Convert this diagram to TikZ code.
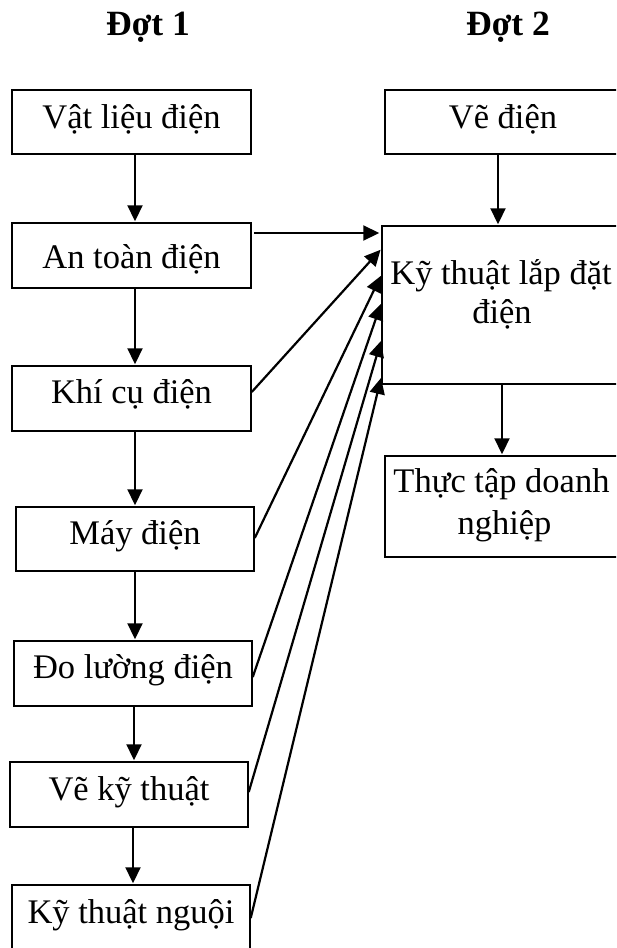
\documentclass[tikz,border=0pt]{standalone}
\usepackage{fontspec}
\setmainfont{Liberation Serif}
\usetikzlibrary{arrows.meta}
\begin{document}
\begin{tikzpicture}[x=1pt,y=-1pt,
  box/.style={draw, line width=1.5pt, inner sep=0pt, text depth=10pt,
    font=\fontsize{34.5}{39}\selectfont},
  txt/.style={inner sep=0pt, font=\fontsize{34.5}{39}\selectfont},
  ttl/.style={inner sep=0pt, font=\fontsize{35.5}{40}\selectfont\bfseries},
  arr/.style={line width=2.2pt, -{Triangle[length=16pt,width=15pt]}, shorten >=1pt}]
\useasboundingbox (0,0) rectangle (616,948);
\clip (0,0) rectangle (616,948);
% titles
\node[ttl, anchor=base] (t1) at (148,35) {Đợt 1};
\node[ttl, anchor=base] (t2) at (508,35) {Đợt 2};
% left column
\node[box, minimum width=239pt, minimum height=64pt, text height=22pt] (vl) at (131.5,122) {Vật liệu điện};
\node[box, minimum width=239pt, minimum height=65pt, text height=35pt] (at) at (131.5,255.5) {An toàn điện};
\node[box, minimum width=239pt, minimum height=65pt, text height=19pt] (kc) at (131.5,398.5) {Khí cụ điện};
\node[box, minimum width=238pt, minimum height=64pt, text height=20pt] (md) at (135,539) {Máy điện};
\node[box, minimum width=238pt, minimum height=65pt, text height=19pt] (dl) at (133,673.5) {Đo lường điện};
\node[box, minimum width=238pt, minimum height=65pt, text height=21pt] (vk) at (129,794.5) {Vẽ kỹ thuật};
\node[box, minimum width=238pt, minimum height=65pt, text height=21pt] (kn) at (131,917.5) {Kỹ thuật nguội};
% right column
\node[box, minimum width=236pt, minimum height=64pt, text height=22pt] (vd) at (503,122) {Vẽ điện};
\node[box, minimum width=238pt, minimum height=158pt] (big) at (501,305) {};
\node[txt, anchor=base] (bigA) at (501,284) {Kỹ thuật lắp đặt};
\node[txt, anchor=base] (bigB) at (502,323) {điện};
\node[box, minimum width=236pt, minimum height=101pt] (tt) at (503,506.5) {};
\node[txt, anchor=base] (ttA) at (501.5,492) {Thực tập doanh};
\node[txt, anchor=base] (ttB) at (504.5,534) {nghiệp};
% vertical arrows
\draw[arr] (vl.south -| 135,0) -- (at.north -| 135,0);
\draw[arr] (at.south -| 135,0) -- (kc.north -| 135,0);
\draw[arr] (kc.south -| 135,0) -- (md.north -| 135,0);
\draw[arr] (md.south -| 135,0) -- (dl.north -| 135,0);
\draw[arr] (dl.south -| 134,0) -- (vk.north -| 134,0);
\draw[arr] (vk.south -| 133,0) -- (kn.north -| 133,0);
\draw[arr] (vd.south -| 498,0) -- (big.north -| 498,0);
\draw[arr] (big.south -| 502,0) -- (tt.north -| 502,0);
% into the big box
\draw[arr, shorten <=2pt, shorten >=2pt] (at.east |- 0,233) -- (big.west |- 0,233);
\draw[arr] (kc.east |- 0,392) -- (big.west |- 0,249);
\draw[arr] (md.east |- 0,538) -- (big.west |- 0,275);
\draw[arr] (dl.east |- 0,677) -- (big.west |- 0,303);
\draw[arr] (vk.east |- 0,792) -- (big.west |- 0,340);
\draw[arr] (kn.east |- 0,918) -- (big.west |- 0,377);
\end{tikzpicture}
\end{document}
